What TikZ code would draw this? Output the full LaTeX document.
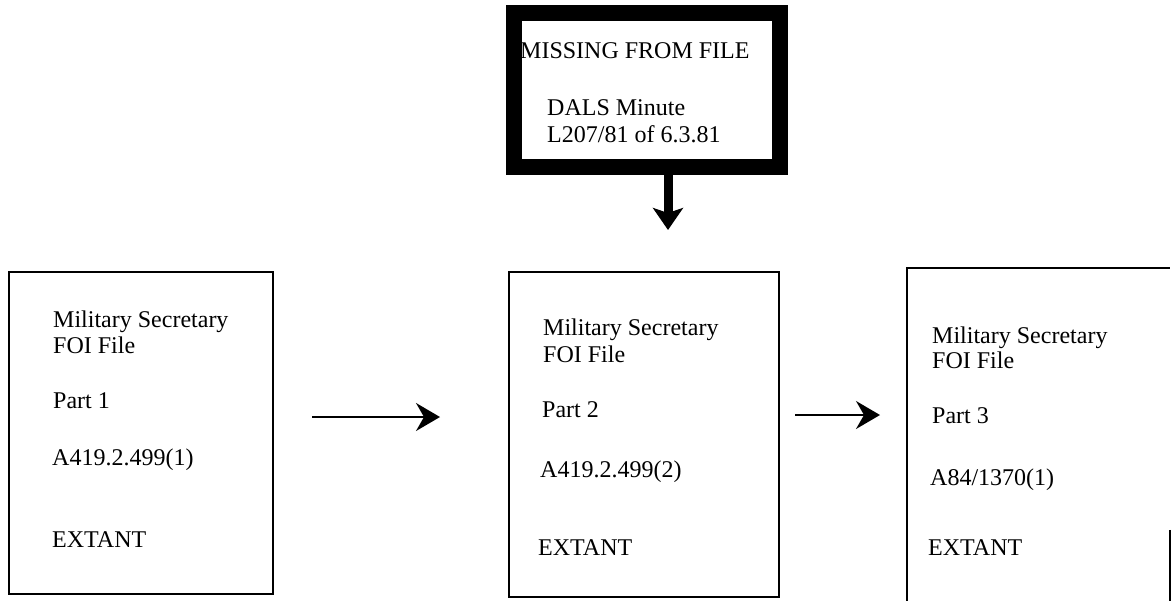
\documentclass[tikz,border=0pt]{standalone}
\usepackage{fontspec}
\setmainfont{Liberation Serif}
\usetikzlibrary{arrows.meta,calc}
\begin{document}
\begin{tikzpicture}[x=1pt,y=-1pt,
  filebox/.style={draw, line width=1.6pt, rectangle, inner sep=0pt},
  txt/.style={anchor=base west, inner sep=0pt, font=\fontsize{24}{27}\selectfont},
  flowarrow/.style={line width=1.8pt, -{Stealth[length=24pt,width=28pt,inset=8pt]}},
  downarrow/.style={line width=9pt, -{Stealth[length=22pt,width=30pt,inset=5pt]}}]
\useasboundingbox (0,0) rectangle (1172,600);
\clip (0,0) rectangle (1172,600);

% missing item box
\node[draw, line width=16pt, minimum width=266pt, minimum height=154pt, inner sep=0pt] (top) at (647,90) {};
\node[txt] (m1) at (520,58) {MISSING FROM FILE};
\node[txt] (m2) at (547,115) {DALS Minute};
\node[txt] (m3) at (547,142) {L207/81 of 6.3.81};

% file boxes
\node[filebox, minimum width=264pt, minimum height=322pt] (b1) at (141,433) {};
\node[filebox, minimum width=270pt, minimum height=325pt] (b2) at (644,434.5) {};
\node[minimum width=263pt, minimum height=340pt, inner sep=0pt] (b3) at (1038.5,438) {};
\draw[line width=1.6pt] (b3.south west) -- (b3.north west) -- (b3.north east);
\draw[line width=1.6pt] ($(b3.north east)+(0,262)$) -- (b3.south east);

% box 1 text
\node[txt] (p1a) at (53,327) {Military Secretary};
\node[txt] (p1b) at (53,353) {FOI File};
\node[txt] (p1c) at (53,408) {Part 1};
\node[txt] (p1d) at (52,465) {A419.2.499(1)};
\node[txt] (p1e) at (52,547) {EXTANT};

% box 2 text
\node[txt] (p2a) at (543,335) {Military Secretary};
\node[txt] (p2b) at (543,362) {FOI File};
\node[txt] (p2c) at (542,417) {Part 2};
\node[txt] (p2d) at (540,477) {A419.2.499(2)};
\node[txt] (p2e) at (538,555) {EXTANT};

% box 3 text
\node[txt] (p3a) at (932,343) {Military Secretary};
\node[txt] (p3b) at (932,368) {FOI File};
\node[txt] (p3c) at (932,423) {Part 3};
\node[txt] (p3d) at (930,485) {A84/1370(1)};
\node[txt] (p3e) at (928,555) {EXTANT};

% connectors
\coordinate (dtip) at (668,230);
\draw[downarrow] ($(top.south)+(21,0)$) -- (dtip);

\coordinate (a1s) at (312,417);
\coordinate (a1e) at (440,417);
\coordinate (a2s) at (795,415);
\coordinate (a2e) at (880,415);
\draw[flowarrow] (a1s) -- (a1e);
\draw[flowarrow] (a2s) -- (a2e);
\end{tikzpicture}
\end{document}
